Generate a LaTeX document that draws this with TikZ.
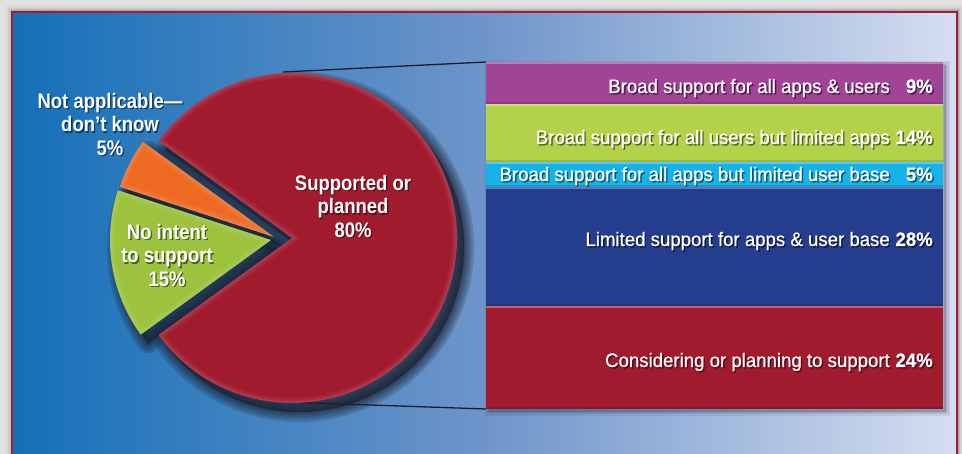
\documentclass[tikz,border=0pt]{standalone}
\usepackage{fontspec}
\usepackage{graphicx}
\usetikzlibrary{calc}
\newfontfamily\regf[FakeBold=0.6]{Liberation Sans}
\newfontfamily\boldf{Liberation Sans}
\definecolor{outergray}{HTML}{E2E2E2}
\definecolor{framered}{HTML}{A51D34}
\definecolor{bgL}{HTML}{1470B8}
\definecolor{bgM}{HTML}{6E95CA}
\definecolor{bgR}{HTML}{D6DEF0}
\definecolor{piered}{HTML}{A11B2F}
\definecolor{pieorange}{HTML}{EE6A22}
\definecolor{piegreen}{HTML}{9DC23D}
\definecolor{barpurple}{HTML}{A14396}
\definecolor{bargreen}{HTML}{B3D249}
\definecolor{barcyan}{HTML}{16B3EA}
\definecolor{barblue}{HTML}{253D8D}
\definecolor{barred}{HTML}{A11B2F}
\definecolor{shcol}{HTML}{1A2030}
\definecolor{connc}{HTML}{1E1E26}
% text shadow colours, one per background
\definecolor{shRed}{HTML}{520C18}
\definecolor{shPurple}{HTML}{4E1A4A}
\definecolor{shLime}{HTML}{55661E}
\definecolor{shCyan}{HTML}{0B5478}
\definecolor{shNavy}{HTML}{0F1840}
\definecolor{shGreen}{HTML}{46601A}
\definecolor{shBlue}{HTML}{0C3460}
\newcommand\sh[2]{\rlap{\kern1.5pt\raisebox{-1.5pt}{\color{#1}#2}}#2}
\newcommand\shb[2]{\scalebox{0.88}[1]{\sh{#1}{#2}}}
% bar row: label, then percentage right-aligned in its own column
\newcommand\barrow[3]{\scalebox{0.955}[1]{\sh{#1}{#2\makebox[45pt][r]{\bfseries #3}}}}
\tikzset{
  barbox/.style={rectangle, inner sep=0pt, outer sep=0pt, draw=none},
  barlab/.style={font=\regf\fontsize{19.5}{22}\selectfont, inner sep=0pt, anchor=base east, text=white},
  pielab/.style={font=\boldf\bfseries\fontsize{21}{23.5}\selectfont, inner sep=0pt, align=center, text=white},
  connline/.style={draw=connc, line width=1.3pt},
  hilite/.style={draw=white, opacity=0.3, line width=1.6pt},
}
\def\redslice{(292,216) -- ++(-144:165) arc[start angle=-144,end angle=144,radius=165] -- cycle}
\def\orangeslice{(274,217) -- ++(144:162) arc[start angle=144,end angle=162,radius=162] -- cycle}
\def\greenslice{(271,214) -- ++(162:161) arc[start angle=162,end angle=216,radius=161] -- cycle}
\newcommand\blurshadow[1]{%
  \foreach \w in {20,15,10,6,2}{%
    \path[fill=shcol, draw=shcol, line width=\w pt, line join=round, opacity=0.2, shift={(7,-9)}] #1;}}
\newcommand\bevel[1]{%
  \begin{scope}
    \clip #1;
    \foreach \w in {10,6,3}{\draw[white, opacity=0.05, line width=\w pt] #1;}
  \end{scope}}
\begin{document}
\begin{tikzpicture}[x=1pt,y=1pt]
\useasboundingbox (0,0) rectangle (962,454);
\fill[outergray] (0,0) rectangle (962,454);
% frame shadow
\foreach \w/\o in {12/0.04, 8/0.06, 5/0.08, 3/0.1}{%
  \draw[black, opacity=\o, line width=\w pt] (12,-20) -- (12,442) -- (957,442) -- (957,-20);}
\shade[left color=bgL, right color=bgR, middle color=bgM] (12,-5) rectangle (957,442);
\draw[framered, line width=2.2pt] (12,-20) -- (12,442) -- (957,442) -- (957,-20);
% bars shadow
\foreach \w in {8,5,2}{%
  \path[fill=shcol, draw=shcol, line width=\w pt, opacity=0.08] (489,42) rectangle (946,389);}
% bars
\node[barbox, fill=barpurple, minimum width=457pt, minimum height=42pt]  (b1) at (714.5,371) {};
\node[barbox, fill=bargreen,  minimum width=457pt, minimum height=58pt]  (b2) at (714.5,321) {};
\node[barbox, fill=barcyan,   minimum width=457pt, minimum height=25pt]  (b3) at (714.5,279.5) {};
\node[barbox, fill=barblue,   minimum width=457pt, minimum height=119pt] (b4) at (714.5,207.5) {};
\node[barbox, fill=barred,    minimum width=457pt, minimum height=103pt] (b5) at (714.5,96.5) {};
\foreach \b in {b1,b2,b3,b4,b5}{%
  \draw[hilite] ([yshift=-1pt]\b.north west) -- ([yshift=-1pt]\b.north east);
  \draw[black, opacity=0.12, line width=1.5pt] ([yshift=0.8pt]\b.south west) -- ([yshift=0.8pt]\b.south east);}
% pie shadows
\blurshadow{\redslice}
\blurshadow{\orangeslice}
\blurshadow{\greenslice}
% connectors
\coordinate (ptop) at (283,382);
\coordinate (pbot) at (283,52);
\draw[connline] (ptop) -- (b1.north west);
\draw[connline] (pbot) -- (b5.south west);
% pie slices
\fill[piered] \redslice;
\fill[pieorange] \orangeslice;
\fill[piegreen] \greenslice;
\bevel{\redslice}
\bevel{\orangeslice}
\bevel{\greenslice}
% pie labels
\node[pielab] (lred) at (353,247) {\shb{shRed}{Supported or}\\\shb{shRed}{planned}\\\shb{shRed}{80\%}};
\node[pielab] (lna) at (110,329) {\shb{shBlue}{Not applicable—}\\\shb{shBlue}{don’t know}\\\shb{shBlue}{5\%}};
\node[pielab] (lno) at (167,198) {\shb{shGreen}{No intent}\\\shb{shGreen}{to support}\\\shb{shGreen}{15\%}};
% bar labels
\node[barlab] (t1) at (933,361) {\barrow{shPurple}{Broad support for all apps \& users}{9\%}};
\node[barlab] (t2) at (933,310) {\barrow{shLime}{Broad support for all users but limited apps}{14\%}};
\node[barlab] (t3) at (933,273) {\barrow{shCyan}{Broad support for all apps but limited user base}{5\%}};
\node[barlab] (t4) at (933,208) {\barrow{shNavy}{Limited support for apps \& user base}{28\%}};
\node[barlab] (t5) at (933,87) {\barrow{shRed}{Considering or planning to support}{24\%}};
\end{tikzpicture}
\end{document}
